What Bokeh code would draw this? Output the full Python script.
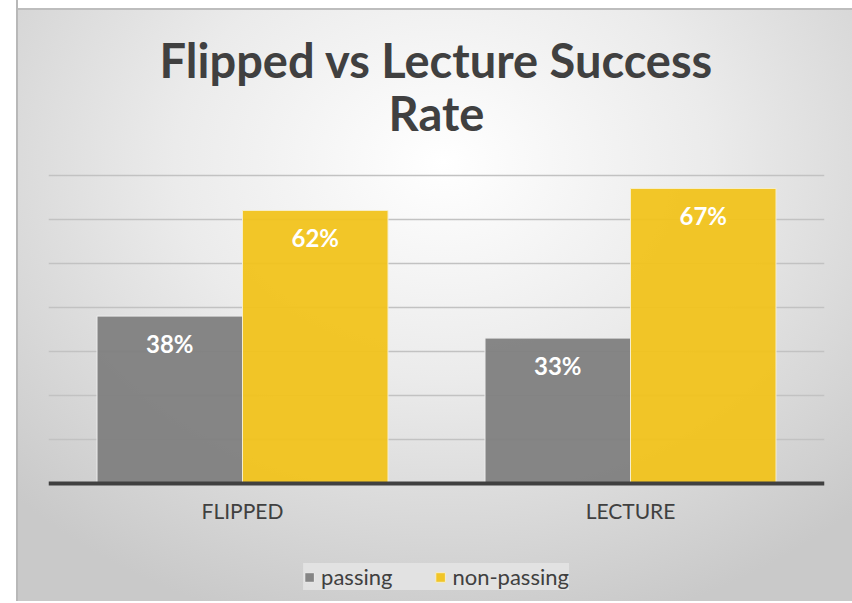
from bokeh.plotting import figure
from bokeh.models import (Range1d, FactorRange, ColumnDataSource, LabelSet, Legend,
                          LegendItem, Label, FixedTicker)
from bokeh.core.properties import value
from bokeh.transform import dodge
from bokeh.embed import file_html
from bokeh.resources import INLINE

categories = ["FLIPPED", "LECTURE"]
passing = [38, 33]
non_passing = [62, 67]
series_names = ["passing", "non-passing"]
y_ticks = [0, 10, 20, 30, 40, 50, 60, 70]
title_lines = ["Flipped vs Lecture Success", "Rate"]

GRAY = "#7f7f7f"
YELLOW = "#F1C31C"
TEXT = "#404040"
FONT = "Lato"

src = ColumnDataSource(dict(
    cat=categories,
    passing=passing,
    non_passing=non_passing,
    passing_lbl=[f"{v}%" for v in passing],
    non_passing_lbl=[f"{v}%" for v in non_passing],
))

# frame spans the whole chart box; the value axis occupies 0..70
p = figure(x_range=FactorRange(*categories), y_range=Range1d(-25.5, 107.9),
           frame_width=776, frame_height=587, output_backend="svg", toolbar_location=None,
           min_border_left=48, min_border_right=28, min_border_top=8,
           min_border_bottom=6)
p.styles = {
    "background": ("linear-gradient(to right, #ffffff 0px, #ffffff 16px, #b8b8b8 16px, #b8b8b8 18px, transparent 18px), "
                   "linear-gradient(to bottom, #ffffff 0px, #ffffff 8px, #bdbdbd 8px, #bdbdbd 10px, transparent 10px), "
                   "radial-gradient(ellipse 70% 80% at 52% 27%, #ffffff 0%, #ebebeb 45%, #c9c9c9 100%)"),
}
p.border_fill_alpha = 0
p.background_fill_alpha = 0
p.outline_line_color = None
p.title.visible = False

for txt, yy in zip(title_lines, (96.1, 84.2)):
    p.add_layout(Label(x=1.0, y=yy, text=txt, text_align="center", text_baseline="middle",
                       text_font=FONT, text_font_size="47px", text_font_style="bold",
                       text_color=TEXT))

w = 0.375
r1 = p.vbar(x=dodge("cat", -0.1875, range=p.x_range), top="passing", width=w, source=src,
            fill_color=GRAY, fill_alpha=0.95, line_color="#ededed", line_width=1)
r2 = p.vbar(x=dodge("cat", 0.1875, range=p.x_range), top="non_passing", width=w, source=src,
            fill_color=YELLOW, fill_alpha=0.95, line_color="#f6eecb", line_width=1)

for col, lbl, off in (("passing", "passing_lbl", -0.1875), ("non_passing", "non_passing_lbl", 0.1875)):
    p.add_layout(LabelSet(x=dodge("cat", off, range=p.x_range), y=col, text=lbl, source=src,
                          y_offset=-27, text_align="center", text_baseline="middle",
                          text_color="white", text_font=value(FONT), text_font_style="bold",
                          text_font_size="24px"))

p.yaxis.visible = False
p.ygrid.ticker = FixedTicker(ticks=y_ticks)
p.ygrid.grid_line_color = "#c2c2c2"
p.ygrid.grid_line_width = 1.5
p.xgrid.grid_line_color = None

xa = p.xaxis[0]
xa.fixed_location = 0
xa.axis_line_color = TEXT
xa.axis_line_width = 4
xa.major_tick_line_color = None
xa.minor_tick_line_color = None
xa.major_label_standoff = 9
xa.major_label_text_font = FONT
xa.major_label_text_font_size = "21px"
xa.major_label_text_color = TEXT

legend = Legend(items=[LegendItem(label=series_names[0], renderers=[r1]),
                       LegendItem(label=series_names[1], renderers=[r2])],
                orientation="horizontal", location="bottom_center",
                background_fill_color="#e3e3e3", background_fill_alpha=0.9,
                border_line_color=None, glyph_width=12, glyph_height=12,
                label_standoff=6, spacing=42, padding=18, margin=5,
                label_text_font=FONT, label_text_font_size="22px",
                label_text_color=TEXT)
p.add_layout(legend, "center")

open("out.html", "w").write(file_html(p, INLINE))
